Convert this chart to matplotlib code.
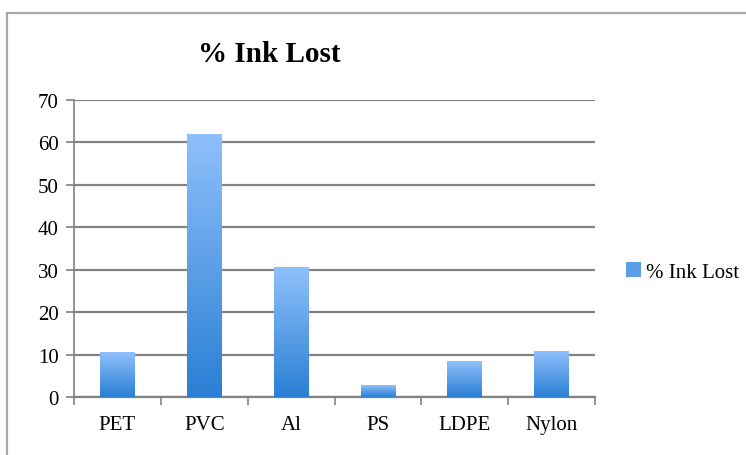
import numpy as np
import matplotlib
matplotlib.use('Agg')
import matplotlib.pyplot as plt
import matplotlib.patches as mpatches
from matplotlib.colors import LinearSegmentedColormap

# data
materials = ['PET', 'PVC', 'Al', 'PS', 'LDPE', 'Nylon']
ink_lost = [10.4, 61.8, 30.6, 2.7, 8.4, 10.7]
series_name = '% Ink Lost'

plt.rcParams['font.family'] = ['Liberation Serif', 'DejaVu Serif']

fig = plt.figure(figsize=(7.46, 4.56), dpi=100)
ax = fig.add_axes([74/746, 1-398/456, (595-74)/746, (398-101)/456])

# chart area border (cut off on right and bottom, like the screenshot)
fig.patches.append(mpatches.Rectangle((7/746, -0.1), 1.2, 1-14/456+0.1,
                                      transform=fig.transFigure, fill=False,
                                      edgecolor='#a8a8a8', linewidth=1.6))

grad = LinearSegmentedColormap.from_list('bar', ['#2a7fd4', '#8fc0fb'])
x = np.arange(len(materials))
bars = ax.bar(x, ink_lost, width=0.4, color='none', zorder=3)
g = np.linspace(0, 1, 256).reshape(-1, 1)
for b in bars:
    x0, y0 = b.get_x(), b.get_y()
    ax.imshow(g, cmap=grad, origin='lower', aspect='auto', zorder=3,
              extent=(x0, x0 + b.get_width(), y0, y0 + b.get_height()))

ax.set_xlim(-0.5, len(materials) - 0.5)
ax.set_ylim(0, 70)
ax.set_yticks(range(0, 71, 10))
ax.yaxis.grid(True, color='#828282', linewidth=1.6, zorder=1)
ax.set_axisbelow(True)

ax.set_xticks(x)
ax.set_xticklabels(materials, fontsize=15)
ax.tick_params(axis='x', length=0, pad=13)
ax.set_xticks(np.arange(-0.5, len(materials)), minor=True)
ax.tick_params(axis='x', which='minor', length=6, width=1.2, color='#828282')
ax.tick_params(axis='y', length=6, width=1.2, color='#828282', labelsize=15, pad=5)

for s in ['top', 'right']:
    ax.spines[s].set_visible(False)
ax.spines['left'].set_color('#828282')
ax.spines['bottom'].set_color('#828282')
ax.spines['left'].set_linewidth(1.2)
ax.spines['bottom'].set_linewidth(1.6)

fig.text(269/746, 1-55/456, series_name, ha='center', va='center',
         fontsize=21, fontweight='bold')

handle = mpatches.Patch(facecolor='#5b9ee8', edgecolor='none', label=series_name)
fig.legend(handles=[handle], loc='center left', bbox_to_anchor=(607/746, 1-273/456),
           frameon=False, fontsize=15, handlelength=0.75, handleheight=0.75,
           handletextpad=0.2)

fig.savefig('out.png', dpi=100)
